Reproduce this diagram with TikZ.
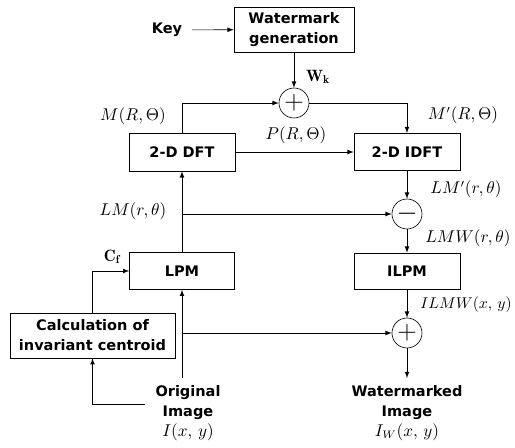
\documentclass[tikz,border=0pt]{standalone}
\usepackage{fontspec}
\newfontfamily\blokfont{DejaVu Sans}
\usetikzlibrary{calc}

\tikzset{
  blok/.style={draw,thin,align=center,inner sep=0pt,
    font=\blokfont\bfseries\fontsize{9.3}{12.8}\selectfont},
  somme/.style={draw,thin,circle,minimum size=0.675cm,inner sep=0pt},
  etiq/.style={font=\fontsize{10.5}{12}\selectfont},
  titre/.style={align=center,inner sep=1pt,
    font=\blokfont\bfseries\fontsize{9.3}{12.8}\selectfont},
  fleche/.style={-latex,thin}
}

\begin{document}
\begin{tikzpicture}[x=0.0225cm,y=-0.0225cm]

\useasboundingbox (0,0) rectangle (515,448);

% Blocs
\node[blok,minimum width=2.7cm,minimum height=1.01cm]
(wm) at (294,29.5)
{Watermark\\generation};

\node[blok,minimum width=2.385cm,minimum height=0.855cm]
(dft) at (182,152)
{2-D DFT};

\node[blok,minimum width=2.385cm,minimum height=0.84cm]
(idft) at (407,152)
{2-D IDFT};

\node[blok,minimum width=2.36cm,minimum height=0.83cm]
(lpm) at (182,271)
{LPM};

\node[blok,minimum width=2.385cm,minimum height=0.81cm]
(ilpm) at (407,271)
{ILPM};

\node[blok,minimum width=3.71cm,minimum height=1.01cm]
(calc) at (92.5,335.5)
{Calculation of\\invariant centroid};

% Sommateurs
\node[somme] (plusA) at (294,103) {\LARGE$+$};
\node[somme] (moins) at (407,214) {\LARGE$-$};
\node[somme] (plusB) at (407,333) {\LARGE$+$};

% Entrees et sortie
\node[titre] (key) at (167,30) {Key};

\node[titre] (orig) at (188,413)
{Original\\Image\\\normalfont\fontsize{10.5}{12}\selectfont$I(x,\,y)$};

\node[titre] (wmimg) at (407,413)
{Watermarked\\Image\\\normalfont\fontsize{10.5}{12}\selectfont$I_W(x,\,y)$};

\coordinate (origtop) at (182,378);
\coordinate (origleft) at (145,404);
\coordinate (wmtop) at (407,378);

% Liaisons
\draw[fleche,shorten <=5pt] (key) -- (wm);
\draw[fleche] (wm) -- (plusA);
\draw[fleche] (dft.north) |- (plusA.west);
\draw[fleche] (plusA.east) -| (idft.north);
\draw[fleche] (dft) -- (idft);
\draw[fleche] (lpm) -- (dft);
\draw[fleche] (lpm.north |- moins) -- (moins.west);
\draw[fleche] (idft) -- (moins);
\draw[fleche] (moins) -- (ilpm);
\draw[fleche] (ilpm) -- (plusB);
\draw[fleche] (calc.north) |- (lpm.west);
\draw[fleche] (origtop) -- (lpm.south);
\draw[fleche] (origtop |- plusB) -- (plusB.west);
\draw[fleche] (origleft) -| (calc.south);
\draw[fleche] (plusB) -- (wmtop);

% Etiquettes
\node[etiq] (lWk) at (318,77) {$\mathbf{W}_{\mathbf{k}}$};
\node[etiq] (lM) at (133,116) {$M(R,\Theta)$};
\node[etiq] (lMp) at (463,115) {$M'(R,\Theta)$};
\node[etiq] (lP) at (296,135) {$P(R,\Theta)$};
\node[etiq] (lLM) at (133,211) {$LM(r,\theta)$};
\node[etiq] (lLMp) at (466,189) {$LM'(r,\theta)$};
\node[etiq] (lLMW) at (468,238) {$LMW(r,\theta)$};
\node[etiq] (lCf) at (112,257) {$\mathbf{C}_{\mathbf{f}}$};
\node[etiq,font=\fontsize{10}{12}\selectfont] (lILMW) at (466,305) {$ILMW(x,\,y)$};

\end{tikzpicture}
\end{document}
